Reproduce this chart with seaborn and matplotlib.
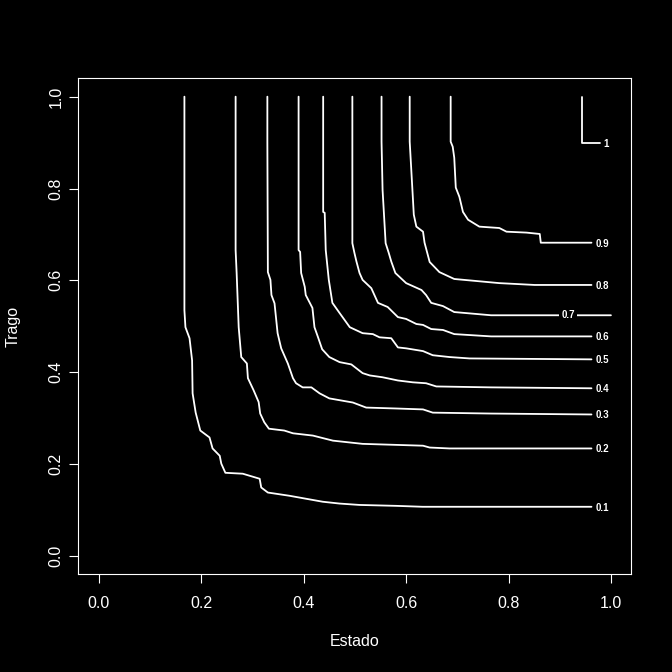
import matplotlib
matplotlib.use("Agg")
import matplotlib.pyplot as plt
import numpy as np
import pandas as pd
import seaborn as sns

# ---- data (contour lines of level z) ----
levels = [0.1, 0.2, 0.3, 0.4, 0.5, 0.6, 0.7, 0.8, 0.9, 1.0]
level_labels = ["0.1", "0.2", "0.3", "0.4", "0.5", "0.6", "0.7", "0.8", "0.9", "1"]

x_01 = [0.167, 0.167, 0.169, 0.177, 0.182, 0.183, 0.189, 0.198, 0.216, 0.222, 0.236, 0.239,
        0.247, 0.281, 0.314, 0.317, 0.330, 0.372, 0.437, 0.470, 0.509, 0.581, 0.632, 0.962]
y_01 = [1.000, 0.535, 0.498, 0.474, 0.426, 0.354, 0.312, 0.273, 0.258, 0.234, 0.218, 0.201,
        0.181, 0.179, 0.168, 0.149, 0.138, 0.131, 0.118, 0.114, 0.111, 0.109, 0.107, 0.107]

x_02 = [0.267, 0.267, 0.269, 0.273, 0.278, 0.289, 0.291, 0.302, 0.312, 0.315, 0.323, 0.332,
        0.362, 0.379, 0.418, 0.457, 0.515, 0.633, 0.646, 0.685, 0.962]
y_02 = [1.000, 0.666, 0.616, 0.498, 0.433, 0.419, 0.387, 0.361, 0.335, 0.310, 0.291, 0.277,
        0.273, 0.267, 0.262, 0.251, 0.244, 0.240, 0.236, 0.234, 0.234]

x_03 = [0.329, 0.329, 0.330, 0.335, 0.337, 0.343, 0.349, 0.356, 0.369, 0.379, 0.385, 0.398,
        0.415, 0.431, 0.450, 0.496, 0.522, 0.581, 0.633, 0.652, 0.766, 0.962]
y_03 = [1.000, 0.902, 0.618, 0.601, 0.568, 0.550, 0.485, 0.452, 0.419, 0.387, 0.376, 0.367,
        0.367, 0.354, 0.343, 0.334, 0.323, 0.321, 0.319, 0.312, 0.310, 0.308]

x_04 = [0.390, 0.390, 0.393, 0.395, 0.402, 0.404, 0.417, 0.421, 0.428, 0.436, 0.450, 0.470,
        0.493, 0.515, 0.529, 0.554, 0.584, 0.613, 0.639, 0.659, 0.766, 0.962]
y_04 = [1.000, 0.666, 0.662, 0.616, 0.586, 0.568, 0.540, 0.498, 0.476, 0.450, 0.433, 0.422,
        0.417, 0.398, 0.393, 0.389, 0.382, 0.378, 0.376, 0.369, 0.367, 0.365]

x_05 = [0.438, 0.438, 0.441, 0.443, 0.449, 0.456, 0.470, 0.490, 0.515, 0.535, 0.548, 0.571,
        0.584, 0.600, 0.633, 0.652, 0.685, 0.724, 0.962]
y_05 = [1.000, 0.749, 0.747, 0.666, 0.601, 0.551, 0.529, 0.498, 0.485, 0.483, 0.476, 0.474,
        0.454, 0.452, 0.446, 0.437, 0.433, 0.430, 0.428]

x_06 = [0.495, 0.495, 0.499, 0.503, 0.509, 0.515, 0.532, 0.545, 0.564, 0.584, 0.600, 0.620,
        0.633, 0.649, 0.672, 0.694, 0.766, 0.962]
y_06 = [1.000, 0.681, 0.660, 0.641, 0.616, 0.601, 0.583, 0.551, 0.542, 0.520, 0.516, 0.505,
        0.503, 0.494, 0.492, 0.483, 0.478, 0.478]

x_07 = [0.552, 0.552, 0.554, 0.560, 0.566, 0.571, 0.579, 0.600, 0.630, 0.639, 0.649, 0.672,
        0.694, 0.766, 1.000]
y_07 = [1.000, 0.902, 0.797, 0.681, 0.660, 0.641, 0.616, 0.594, 0.579, 0.568, 0.551, 0.544,
        0.531, 0.524, 0.524]

x_08 = [0.607, 0.607, 0.613, 0.615, 0.620, 0.633, 0.636, 0.646, 0.665, 0.694, 0.782, 0.851, 0.962]
y_08 = [1.000, 0.902, 0.783, 0.743, 0.717, 0.706, 0.682, 0.640, 0.618, 0.603, 0.594, 0.590, 0.590]

x_09 = [0.687, 0.687, 0.691, 0.694, 0.697, 0.704, 0.711, 0.721, 0.743, 0.782, 0.796, 0.835,
        0.861, 0.863, 0.962]
y_09 = [1.000, 0.902, 0.891, 0.867, 0.802, 0.782, 0.749, 0.732, 0.717, 0.714, 0.706, 0.704,
        0.701, 0.682, 0.682]

x_10 = [0.943, 0.943, 0.978]
y_10 = [1.000, 0.900, 0.900]

x_ticks = [0.0, 0.2, 0.4, 0.6, 0.8, 1.0]
y_ticks = [0.0, 0.2, 0.4, 0.6, 0.8, 1.0]
tick_labels = ["0.0", "0.2", "0.4", "0.6", "0.8", "1.0"]

xs_all = [x_01, x_02, x_03, x_04, x_05, x_06, x_07, x_08, x_09, x_10]
ys_all = [y_01, y_02, y_03, y_04, y_05, y_06, y_07, y_08, y_09, y_10]

frames = []
for lev, xs, ys in zip(levels, xs_all, ys_all):
    frames.append(pd.DataFrame({"Estado": xs, "Trago": ys, "nivel": lev,
                                "orden": np.arange(len(xs))}))
df = pd.concat(frames, ignore_index=True)

# ---- style ----
sns.set_style("ticks")
plt.rcParams["font.family"] = ["Liberation Sans", "DejaVu Sans"]
plt.rcParams.update({
    "figure.facecolor": "black",
    "axes.facecolor": "black",
    "axes.edgecolor": "white",
    "text.color": "white",
    "axes.labelcolor": "white",
    "xtick.color": "white",
    "ytick.color": "white",
})

fig = plt.figure(figsize=(6.72, 6.72), dpi=100, facecolor="black")
ax = fig.add_axes([0.1167, 0.1454, 0.8229, 0.7381])
ax.set_facecolor("black")

sns.lineplot(data=df, x="Estado", y="Trago", units="nivel", estimator=None,
             sort=False, color="white", linewidth=1.3, ax=ax, legend=False)

# contour labels
for lab, xs, ys in zip(level_labels, xs_all, ys_all):
    if lab == "0.7":
        ax.text(0.916, ys[-1], lab, fontsize=7, fontweight="bold", color="white",
                ha="center", va="center", zorder=5,
                bbox=dict(boxstyle="square,pad=0.25", fc="black", ec="none"))
    elif lab == "1":
        ax.text(0.991, ys[-1] - 0.003, lab, fontsize=7, fontweight="bold", color="white",
                ha="center", va="center", zorder=5)
    else:
        ax.text(0.983, ys[-1] - 0.002, lab, fontsize=7, fontweight="bold", color="white",
                ha="center", va="center", zorder=5)

ax.set_xlim(-0.04, 1.04)
ax.set_ylim(-0.04, 1.04)
ax.set_xticks(x_ticks)
ax.set_xticklabels(tick_labels)
ax.set_yticks(y_ticks)
ax.set_yticklabels(tick_labels, rotation=90, va="center")

for s in ax.spines.values():
    s.set_color("white")
    s.set_linewidth(0.8)
    s.set_visible(True)

ax.tick_params(axis="both", colors="white", length=6.5, width=0.8, labelsize=11.5)
ax.tick_params(axis="x", pad=9)
ax.tick_params(axis="y", pad=4)

ax.set_xlabel("Estado", fontsize=11.5, color="white")
ax.set_ylabel("Trago", fontsize=11.5, color="white")
ax.xaxis.set_label_coords(0.5, -0.1204)
ax.yaxis.set_label_coords(-0.104, 0.5)

fig.savefig("out.png", dpi=100, facecolor="black")
